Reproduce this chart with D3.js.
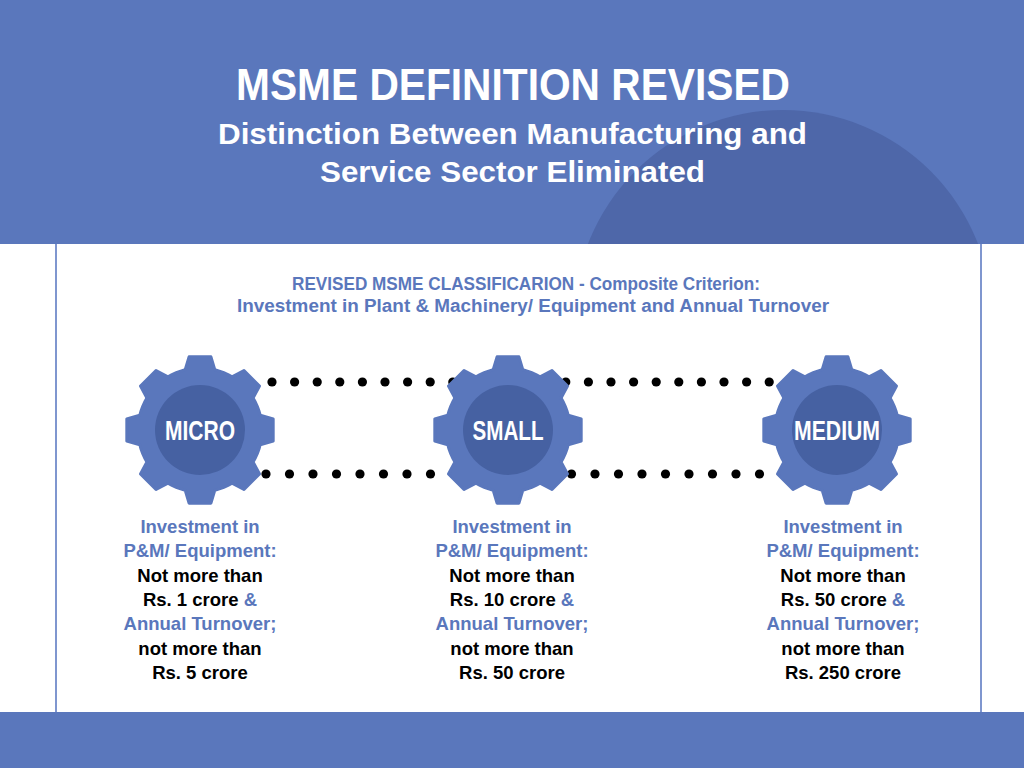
<!DOCTYPE html>
<html>
<head>
<meta charset="utf-8">
<script src="https://cdn.jsdelivr.net/npm/d3@7"></script>
<style>
  body { margin: 0; background: #fff; }
  svg { display: block; }
  .narrow { font-family: "Liberation Sans Narrow", "Arial Narrow", "Liberation Sans", Arial, sans-serif; font-weight: bold; }
  .body-text { font-family: "Liberation Sans", Arial, sans-serif; font-weight: bold; }
</style>
</head>
<body>
<svg id="chart" width="1024" height="768"></svg>
<script>
// data
const categories = ["MICRO", "SMALL", "MEDIUM"]
const investmentCrore = ["1", "10", "50"]
const turnoverCrore = ["5", "50", "250"]

const title = "MSME DEFINITION REVISED"
const subtitle = ["Distinction Between Manufacturing and", "Service Sector Eliminated"]
const heading = ["REVISED MSME CLASSIFICARION - Composite Criterion:", "Investment in Plant & Machinery/ Equipment and Annual Turnover"]

// colours
const blue = "#5a77bc"
const darkBlue = "#4e67a9"
const innerBlue = "#4661a2"
const lineBlue = "#7f96cf"

const W = 1024, H = 768
const headerH = 244
const footerY = 712

const svg = d3.select("#chart")

// layout scales
const gearX = d3.scaleOrdinal().domain(categories).range([200, 508, 837])
const textX = d3.scaleOrdinal().domain(categories).range([200, 512, 843])
const labelLen = d3.scaleOrdinal().domain(categories).range([70, 71, 86])
const lineY = d3.scaleLinear().domain([0, 6]).range([533, 679])

// header band with the darker arc
svg.append("clipPath").attr("id", "head-clip")
    .append("rect").attr("width", W).attr("height", headerH)

svg.append("rect")
    .attr("width", W).attr("height", headerH)
    .attr("fill", blue)

svg.append("circle")
    .attr("cx", 783).attr("cy", 319).attr("r", 209)
    .attr("fill", darkBlue)
    .attr("clip-path", "url(#head-clip)")

// footer band
svg.append("rect")
    .attr("y", footerY).attr("width", W).attr("height", H - footerY)
    .attr("fill", blue)

// side lines of the white panel
svg.selectAll(".side")
    .data([56, 981])
    .join("line")
    .attr("class", "side")
    .attr("x1", d => d).attr("x2", d => d)
    .attr("y1", headerH).attr("y2", footerY)
    .attr("stroke", lineBlue).attr("stroke-width", 2)

// titles
svg.append("text")
    .attr("class", "narrow")
    .attr("x", 513).attr("y", 100)
    .attr("text-anchor", "middle")
    .attr("font-size", 45)
    .attr("fill", "#fff")
    .attr("textLength", 554).attr("lengthAdjust", "spacingAndGlyphs")
    .text(title)

const subLen = [589, 385]
svg.selectAll(".subtitle")
    .data(subtitle)
    .join("text")
    .attr("class", "subtitle narrow")
    .attr("x", 512.5)
    .attr("y", (d, i) => 144 + i * 37.5)
    .attr("text-anchor", "middle")
    .attr("font-size", 30)
    .attr("fill", "#fff")
    .attr("textLength", (d, i) => subLen[i]).attr("lengthAdjust", "spacingAndGlyphs")
    .text(d => d)

const headLen = [468, 592]
const headX = [526, 533]
svg.selectAll(".heading")
    .data(heading)
    .join("text")
    .attr("class", "heading narrow")
    .attr("x", (d, i) => headX[i])
    .attr("y", (d, i) => 290 + i * 21.5)
    .attr("text-anchor", "middle")
    .attr("font-size", 17.5)
    .attr("fill", blue)
    .attr("textLength", (d, i) => headLen[i]).attr("lengthAdjust", "spacingAndGlyphs")
    .text(d => d)

// dotted connectors (behind the gears)
const dotRows = [
    {y: 382, x0: 272, step: 22.6, n: 23},
    {y: 474, x0: 266, step: 23.5, n: 22}
]
dotRows.forEach(row => {
    svg.append("g")
        .selectAll("circle")
        .data(d3.range(row.n))
        .join("circle")
        .attr("cx", i => row.x0 + i * row.step)
        .attr("cy", row.y)
        .attr("r", 4.6)
        .attr("fill", "#000")
})

// gear outline
const teeth = 8
const rOuter = 74, rBody = 62
const topHalf = 11, baseHalf = 15
function gearPoints() {
    let pts = []
    const step = 2 * Math.PI / teeth
    for (let k = 0; k < teeth; k++) {
        const a = k * step
        const aBase = baseHalf / rBody
        const aTop = topHalf / rOuter
        pts.push([a - aBase, rBody])
        pts.push([a - aTop, rOuter])
        pts.push([a + aTop, rOuter])
        pts.push([a + aBase, rBody])
        // valley along body circle
        const v0 = a + aBase, v1 = a + step - aBase
        for (let j = 1; j < 4; j++) {
            pts.push([v0 + (v1 - v0) * j / 4, rBody])
        }
    }
    return pts
}
const gearLine = d3.lineRadial().curve(d3.curveLinearClosed)
const gearPath = gearLine(gearPoints())

const gears = svg.selectAll(".gear")
    .data(categories)
    .join("g")
    .attr("class", "gear")
    .attr("transform", d => `translate(${gearX(d)},430)`)

gears.append("path")
    .attr("d", gearPath)
    .attr("fill", blue)
    .attr("stroke", blue)
    .attr("stroke-width", 3)
    .attr("stroke-linejoin", "round")

gears.append("circle")
    .attr("r", 45)
    .attr("fill", innerBlue)

gears.append("text")
    .attr("class", "narrow")
    .attr("y", 10)
    .attr("text-anchor", "middle")
    .attr("font-size", 28)
    .attr("fill", "#fff")
    .attr("textLength", d => labelLen(d)).attr("lengthAdjust", "spacingAndGlyphs")
    .text(d => d)

// criteria text under each gear
const blocks = svg.selectAll(".crit")
    .data(categories)
    .join("text")
    .attr("class", "crit body-text")
    .attr("text-anchor", "middle")
    .attr("font-size", 18.5)

blocks.each(function(d, i) {
    const t = d3.select(this)
    const x = textX(d)
    const lines = [
        [["Investment in", blue]],
        [["P&M/ Equipment:", blue]],
        [["Not more than", "#000"]],
        [["Rs. " + investmentCrore[i] + " crore ", "#000"], ["&", blue]],
        [["Annual Turnover;", blue]],
        [["not more than", "#000"]],
        [["Rs. " + turnoverCrore[i] + " crore", "#000"]]
    ]
    lines.forEach((parts, li) => {
        parts.forEach((p, pi) => {
            const span = t.append("tspan")
                .attr("fill", p[1])
                .text(p[0])
            if (pi == 0) {
                span.attr("x", x).attr("y", lineY(li))
            }
        })
    })
})
</script>
</body>
</html>
